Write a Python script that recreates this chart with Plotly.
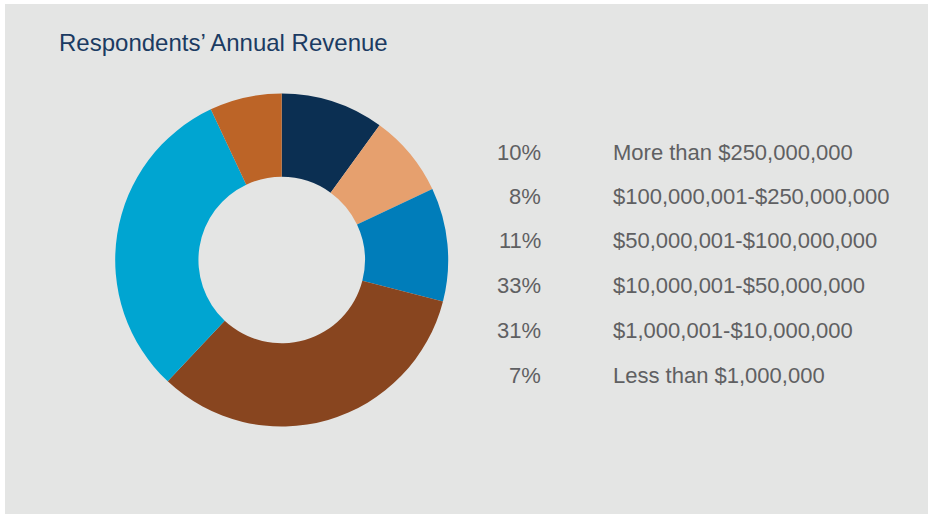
import plotly.graph_objects as go

# revenue bands, clockwise from 12 o'clock
bands = ["More than $250,000,000", "$100,000,001-$250,000,000", "$50,000,001-$100,000,000",
         "$10,000,001-$50,000,000", "$1,000,001-$10,000,000", "Less than $1,000,000"]
shares = [10, 8, 11, 33, 31, 7]
colors = ["#0b2f52", "#e6a06e", "#007dba", "#88451f", "#00a5d1", "#bc6427"]

W, H = 928, 514
bg = "#e4e5e4"

fig = go.Figure(go.Pie(
    labels=bands, values=shares, hole=0.5, sort=False, direction="clockwise", rotation=0,
    marker=dict(colors=colors, line=dict(width=0)),
    textinfo="none", hoverinfo="label+percent",
    domain=dict(x=[115.2 / W, 448.2 / W], y=[87.5 / H, 420.5 / H]),
))

# gray panel
fig.add_shape(type="rect", xref="paper", yref="paper", x0=5 / W, x1=1, y0=0, y1=1 - 4 / H,
              fillcolor=bg, line=dict(width=0), layer="below")

row_y = [152, 196, 240, 285, 330, 375]
for band, share, y in zip(bands, shares, row_y):
    fig.add_annotation(x=543 / W, y=1 - y / H, xref="paper", yref="paper", text=f"{share}%",
                       xanchor="right", yanchor="middle", showarrow=False,
                       font=dict(size=22, color="#5f6062"))
    fig.add_annotation(x=611 / W, y=1 - y / H, xref="paper", yref="paper", text=band,
                       xanchor="left", yanchor="middle", showarrow=False,
                       font=dict(size=22, color="#5f6062"))

fig.add_annotation(x=57 / W, y=1 - 42 / H, xref="paper", yref="paper",
                   text="Respondents’ Annual Revenue", xanchor="left", yanchor="middle",
                   showarrow=False, font=dict(size=24, color="#1b3b62"))

fig.update_layout(width=W, height=H, margin=dict(l=0, r=0, t=0, b=0),
                  paper_bgcolor="white", plot_bgcolor="white", showlegend=False,
                  font=dict(family="Liberation Sans, Arial, sans-serif"))

# drop the default page margin so the figure sits at the window's corner
fig.write_html("out.html", config={"displayModeBar": False},
               post_script="document.body.style.margin='0';document.body.style.overflow='hidden';")
